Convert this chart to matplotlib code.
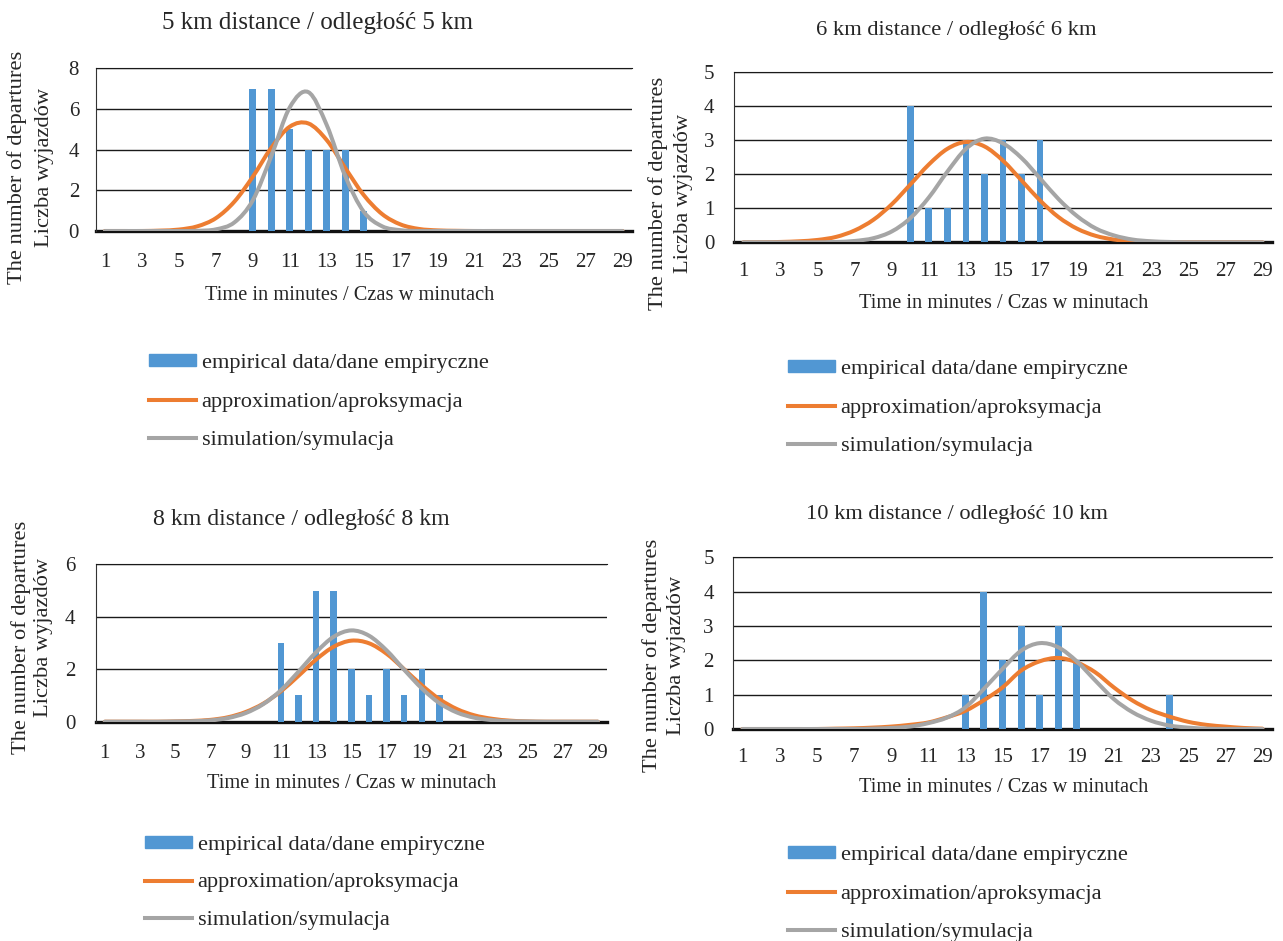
import matplotlib
matplotlib.use("Agg")
import matplotlib.pyplot as plt
from matplotlib.path import Path
from matplotlib.patches import PathPatch, Patch
from matplotlib.lines import Line2D

plt.rcParams['font.family'] = ['Liberation Serif', 'DejaVu Serif']
TXT = "#262626"
BLUE, ORANGE, GREY = "#5197d3", "#ed7d31", "#a5a5a5"

minutes = list(range(1, 30))
tick_minutes = list(range(1, 30, 2))

# 5 km
emp_5 = [0, 0, 0, 0, 0, 0, 0, 0, 7, 7, 5, 4, 4, 4, 1, 0, 0, 0, 0, 0, 0, 0, 0, 0, 0, 0, 0, 0, 0]
apr_5 = [0, 0, 0, 0.02, 0.07, 0.23, 0.63, 1.44, 2.67, 4.09, 5.13, 5.29, 4.47, 3.10, 1.77,
         0.83, 0.32, 0.10, 0.03, 0.01, 0, 0, 0, 0, 0, 0, 0, 0, 0]
sim_5 = [0, 0, 0, 0, 0, 0.01, 0.08, 0.42, 1.51, 3.68, 6.08, 6.83, 5.21, 2.70, 0.95,
         0.23, 0.04, 0, 0, 0, 0, 0, 0, 0, 0, 0, 0, 0, 0]
# 6 km
emp_6 = [0, 0, 0, 0, 0, 0, 0, 0, 0, 4, 1, 1, 3, 2, 3, 2, 3, 0, 0, 0, 0, 0, 0, 0, 0, 0, 0, 0, 0]
apr_6 = [0, 0, 0.01, 0.03, 0.07, 0.16, 0.35, 0.66, 1.12, 1.70, 2.29, 2.75, 2.95, 2.82, 2.40,
         1.82, 1.23, 0.74, 0.40, 0.19, 0.08, 0.03, 0.01, 0, 0, 0, 0, 0, 0]
sim_6 = [0, 0, 0, 0, 0, 0.01, 0.04, 0.12, 0.32, 0.71, 1.32, 2.08, 2.75, 3.05, 2.91,
         2.48, 1.88, 1.27, 0.77, 0.41, 0.20, 0.08, 0.03, 0.01, 0, 0, 0, 0, 0]
# 8 km
emp_8 = [0, 0, 0, 0, 0, 0, 0, 0, 0, 0, 3, 1, 5, 5, 2, 1, 2, 1, 2, 1, 0, 0, 0, 0, 0, 0, 0, 0, 0]
apr_8 = [0, 0, 0, 0, 0.01, 0.03, 0.07, 0.17, 0.37, 0.69, 1.16, 1.75, 2.37, 2.86, 3.09,
         2.99, 2.59, 2.00, 1.39, 0.86, 0.48, 0.24, 0.11, 0.04, 0.01, 0, 0, 0, 0]
sim_8 = [0, 0, 0, 0, 0.01, 0.02, 0.05, 0.14, 0.33, 0.67, 1.20, 1.91, 2.65, 3.24, 3.48,
         3.28, 2.72, 1.98, 1.27, 0.71, 0.35, 0.15, 0.06, 0.02, 0.01, 0, 0, 0, 0]
# 10 km
emp_10 = [0, 0, 0, 0, 0, 0, 0, 0, 0, 0, 0, 0, 1, 4, 2, 3, 1, 3, 2, 0, 0, 0, 0, 1, 0, 0, 0, 0, 0]
apr_10 = [0, 0, 0, 0, 0, 0.01, 0.02, 0.04, 0.07, 0.12, 0.19, 0.34, 0.53, 0.84, 1.21,
          1.70, 1.97, 2.07, 1.94, 1.65, 1.21, 0.83, 0.55, 0.36, 0.21, 0.12, 0.07, 0.03, 0.01]
sim_10 = [0, 0, 0, 0, 0, 0, 0, 0.01, 0.03, 0.07, 0.17, 0.33, 0.63, 1.17, 1.75,
          2.28, 2.50, 2.38, 1.97, 1.41, 0.87, 0.49, 0.24, 0.10, 0.04, 0.01, 0, 0, 0]

LABELS = ["empirical data/dane empiryczne", "approximation/aproksymacja", "simulation/symulacja"]

W, H = 1283, 941


def smooth(ax, xs, ys, color):
    # Excel-like smoothed line: Catmull-Rom segments as cubic beziers
    verts = [(xs[0], ys[0])]
    codes = [Path.MOVETO]
    n = len(xs)
    for i in range(n - 1):
        x0, y0 = (xs[i - 1], ys[i - 1]) if i > 0 else (xs[i], ys[i])
        x1, y1 = xs[i], ys[i]
        x2, y2 = xs[i + 1], ys[i + 1]
        x3, y3 = (xs[i + 2], ys[i + 2]) if i + 2 < n else (x2, y2)
        verts += [(x1 + (x2 - x0) / 6, y1 + (y2 - y0) / 6),
                  (x2 - (x3 - x1) / 6, y2 - (y3 - y1) / 6),
                  (x2, y2)]
        codes += [Path.CURVE4] * 3
    ax.add_patch(PathPatch(Path(verts, codes), fill=False, edgecolor=color, lw=2.9,
                           capstyle="round", zorder=4))


def panel(rect, emp, apr, sim, ymax, ystep, title, tfs, xpad, ypad,
          title_xy, xlab_xy, ylab_x, ylab_y, leg_xy, lspace):
    l, r, t, b = rect
    ax = fig.add_axes([l / W, 1 - b / H, (r - l) / W, (b - t) / H])
    ax.bar(minutes, emp, width=0.37, color=BLUE, zorder=3)
    smooth(ax, minutes, apr, ORANGE)
    smooth(ax, minutes, sim, GREY)
    ax.set_xlim(0.5, 29.5)
    ax.set_ylim(0, ymax)
    ax.set_yticks(range(0, ymax + 1, ystep))
    ax.set_xticks(tick_minutes)
    ax.tick_params(length=0, labelsize=15, colors=TXT)
    ax.tick_params(axis="x", pad=xpad)
    ax.tick_params(axis="y", pad=ypad)
    ax.yaxis.grid(True, color="#1a1a1a", lw=1.0, zorder=1)
    ax.set_axisbelow(True)
    ax.spines["right"].set_visible(False)
    ax.spines["top"].set_color("#1a1a1a")
    ax.spines["left"].set_color("#333333")
    ax.spines["bottom"].set_color("#111111")
    ax.spines["bottom"].set_linewidth(2.4)
    ax.spines["bottom"].set_zorder(2)
    fig.text(title_xy[0] / W, 1 - title_xy[1] / H, title, fontsize=tfs, color=TXT,
             ha="center", va="center")
    fig.text(xlab_xy[0] / W, 1 - xlab_xy[1] / H, "Time in minutes / Czas w minutach",
             fontsize=14.7, color=TXT, ha="center", va="center")
    fig.text(ylab_x[0] / W, 1 - ylab_y / H, "The number of departures", rotation=90,
             fontsize=16.2, color=TXT, ha="center", va="center")
    fig.text(ylab_x[1] / W, 1 - ylab_y / H, "Liczba wyjazdów", rotation=90,
             fontsize=16.2, color=TXT, ha="center", va="center")
    handles = [Patch(color=BLUE),
               Line2D([], [], color=ORANGE, lw=2.9),
               Line2D([], [], color=GREY, lw=2.9)]
    fig.legend(handles, LABELS, loc="center left",
               bbox_to_anchor=(leg_xy[0] / W, 1 - leg_xy[1] / H),
               frameon=False, fontsize=16.1, labelcolor=TXT, borderpad=0,
               borderaxespad=0, handlelength=2.1, handleheight=0.45,
               handletextpad=0.25, labelspacing=lspace)
    return ax


fig = plt.figure(figsize=(W / 100, H / 100), dpi=100)

panel((95.7, 631.7, 68.3, 231), emp_5, apr_5, sim_5, 8, 2,
      "5 km distance / odległość 5 km", 18, 16, 12,
      (317.5, 23), (349.5, 296), (16.7, 44.3), 167, (149, 402), 0.88)
panel((734.3, 1271.7, 72.3, 242.3), emp_6, apr_6, sim_6, 5, 1,
      "6 km distance / odległość 6 km", 16.2, 14.5, 14.5,
      (956.5, 30), (1003.5, 303), (658.3, 683.3), 193, (788, 408), 0.88)
panel((96, 606.7, 564.3, 721.7), emp_8, apr_8, sim_8, 6, 2,
      "8 km distance / odległość 8 km", 17.2, 16, 15,
      (301.5, 520), (352, 783), (20.7, 43.3), 637, (145, 883), 0.84)
panel((733.3, 1271.7, 557.3, 729), emp_10, apr_10, sim_10, 5, 1,
      "10 km distance / odległość 10 km", 16.1, 14, 14,
      (956.5, 515), (1003.5, 788), (651.7, 676.7), 655, (788, 894), 0.88)

fig.savefig("out.png", dpi=100)
